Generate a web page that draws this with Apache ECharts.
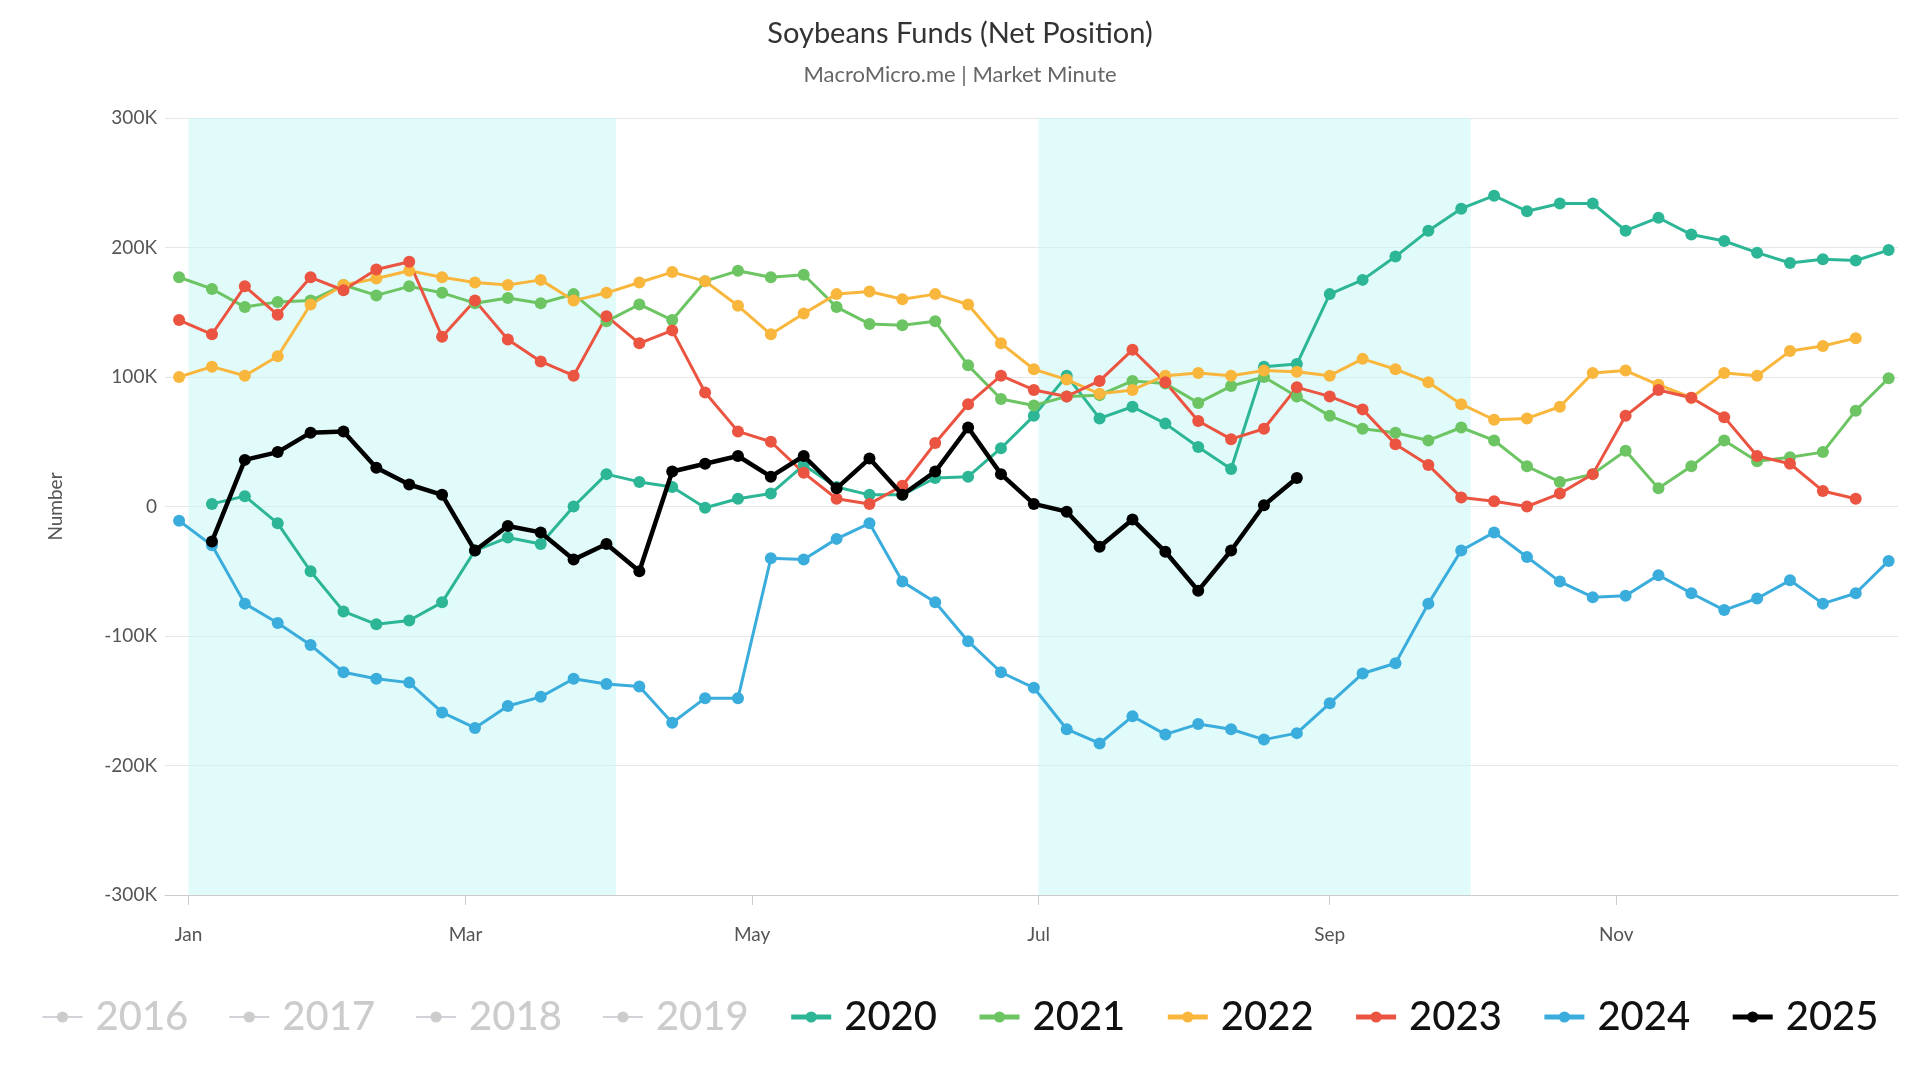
<!DOCTYPE html>
<html><head><meta charset="utf-8">
<script src="https://cdn.jsdelivr.net/npm/echarts@6/dist/echarts.min.js"></script>
<style>html,body{margin:0;padding:0;background:#fff}#c{width:1920px;height:1080px}</style>
</head><body><div id="c"></div>
<script>
const years = ['2016','2017','2018','2019','2020','2021','2022','2023','2024','2025'];
const monthTicks = [0,59,120,181,243,304];
const monthLabels = ['Jan','Mar','May','Jul','Sep','Nov'];
const yTicks = [-300000,-200000,-100000,0,100000,200000,300000];
// start day (0 = Jan 1), weekly values in thousands
const start2020 = 5;
const v2020 = [2,8,-13,-50,-81,-91,-88,-74,-34,-24,-29,0,25,19,15,-1,6,10,32,15,9,9,22,23,45,70,101,68,77,64,46,29,108,110,164,175,193,213,230,240,228,234,234,213,223,210,205,196,188,191,190,198];
const start2021 = -2;
const v2021 = [177,168,154,158,159,171,163,170,165,157,161,157,164,143,156,144,174,182,177,179,154,141,140,143,109,83,78,85,86,97,95,80,93,100,85,70,60,57,51,61,51,31,19,25,43,14,31,51,35,38,42,74,99];
const start2022 = -2;
const v2022 = [100,108,101,116,156,171,176,182,177,173,171,175,159,165,173,181,174,155,133,149,164,166,160,164,156,126,106,98,87,90,101,103,101,105,104,101,114,106,96,79,67,68,77,103,105,94,84,103,101,120,124,130];
const start2023 = -2;
const v2023 = [144,133,170,148,177,167,183,189,131,159,129,112,101,147,126,136,88,58,50,26,6,2,16,49,79,101,90,85,97,121,96,66,52,60,92,85,75,48,32,7,4,0,10,25,70,90,84,69,39,33,12,6];
const start2024 = -2;
const v2024 = [-11,-30,-75,-90,-107,-128,-133,-136,-159,-171,-154,-147,-133,-137,-139,-167,-148,-148,-40,-41,-25,-13,-58,-74,-104,-128,-140,-172,-183,-162,-176,-168,-172,-180,-175,-152,-129,-121,-75,-34,-20,-39,-58,-70,-69,-53,-67,-80,-71,-57,-75,-67,-42];
const start2025 = 5;
const v2025 = [-27,36,42,57,58,30,17,9,-34,-15,-20,-41,-29,-50,27,33,39,23,39,14,37,9,27,61,25,2,-4,-31,-10,-35,-65,-34,1,22];

const colors = {'2016':'#ccc','2017':'#ccc','2018':'#ccc','2019':'#ccc','2020':'#2cb696','2021':'#6cc463','2022':'#f8b73c','2023':'#eb5440','2024':'#3aaddc','2025':'#000000'};
const dataMap = {'2020':[start2020,v2020],'2021':[start2021,v2021],'2022':[start2022,v2022],'2023':[start2023,v2023],'2024':[start2024,v2024],'2025':[start2025,v2025]};
const series = years.map(y => {
  const d = dataMap[y];
  const data = d ? d[1].map((v,i)=>[d[0]+7*i, v*1000]) : [];
  return {name:y,type:'line',data:data,symbol:'circle',symbolSize:12,
    itemStyle:{color:colors[y]},lineStyle:{width:y==='2025'?4.5:3,color:colors[y]},
    z: y==='2025'?10:5};
});
series[4].markArea = {silent:true,itemStyle:{color:'rgba(200,245,245,0.55)'},
  data:[[{xAxis:0},{xAxis:91}],[{xAxis:181},{xAxis:273}]]};
const sel = {}; years.forEach(y=>sel[y]=parseInt(y)>=2020);
const chart = echarts.init(document.getElementById('c'));
chart.setOption({
  animation:false,
  title:{text:'Soybeans Funds (Net Position)',subtext:'MacroMicro.me | Market Minute',left:'center',top:14,
    textStyle:{fontFamily:'Lato',fontSize:29,fontWeight:'normal',color:'#333'},
    subtextStyle:{fontFamily:'Lato',fontSize:22,color:'#666'},itemGap:16},
  legend:{bottom:38,left:'center',selected:sel,itemWidth:40,itemHeight:14,itemGap:40,
    lineStyle:{width:5},
    inactiveColor:'#ccc',textStyle:{fontFamily:'Lato',fontSize:40,fontWeight:500,color:'#111',padding:[0,0,0,8]},
    data:years},
  grid:{left:165,right:22,top:118,bottom:185},
  xAxis:{type:'value',min:-5,max:364,
    axisLine:{onZero:false,lineStyle:{color:'#ccc'}},
    splitLine:{show:false},
    axisTick:{customValues:monthTicks,length:10,lineStyle:{color:'#ccc'}},
    axisLabel:{customValues:monthTicks,formatter:v=>monthLabels[monthTicks.indexOf(v)],fontSize:19,color:'#555',fontFamily:'Lato',margin:30}},
  yAxis:{type:'value',min:-300000,max:300000,interval:100000,name:'Number',nameLocation:'middle',nameGap:100,nameRotate:90,
    axisLine:{show:false},axisTick:{show:false},
    nameTextStyle:{fontSize:19,color:'#555',fontFamily:'Lato'},
    axisLabel:{formatter:v=>v===0?'0':(v/1000)+'K',fontSize:19,color:'#555',fontFamily:'Lato'},
    splitLine:{lineStyle:{color:'#e6e6e6'}}},
  series:series
});
</script></body></html>
